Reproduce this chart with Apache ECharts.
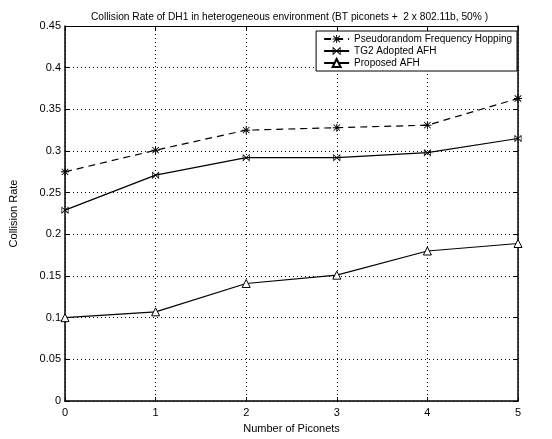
<!DOCTYPE html>
<html>
<head>
<meta charset="utf-8">
<script src="https://cdn.jsdelivr.net/npm/echarts@6/dist/echarts.min.js"></script>
<style>
  html, body { margin: 0; padding: 0; background: #fff; }
  #chart { width: 552px; height: 439px; }
</style>
</head>
<body>
<div id="chart"></div>
<script>
// values
const piconets = [0, 1, 2, 3, 4, 5];
const pseudoRandom = [0.275, 0.301, 0.325, 0.328, 0.331, 0.363];
const tg2Afh = [0.229, 0.271, 0.292, 0.292, 0.298, 0.315];
const proposedAfh = [0.100, 0.107, 0.141, 0.151, 0.180, 0.189];
const seriesNames = ['Pseudorandom Frequency Hopping', 'TG2 Adopted AFH', 'Proposed AFH'];

const font = 'Liberation Sans, Arial, sans-serif';
const star = 'path://M4.4 0 L5.6 0 L5.6 10 L4.4 10 Z M0.5 1.5 L1.3 0.7 L9.5 8.5 L8.7 9.3 Z M8.7 0.7 L9.5 1.5 L1.3 9.3 L0.5 8.5 Z M0 4.4 L10 4.4 L10 5.6 L0 5.6 Z';
const cross = 'path://M0.5 1.5 L1.3 0.7 L9.5 8.5 L8.7 9.3 Z M8.7 0.7 L9.5 1.5 L1.3 9.3 L0.5 8.5 Z M0 0 L1 0 L1 10 L0 10 Z M9 0 L10 0 L10 10 L9 10 Z';

const pairs = (ys) => piconets.map((x, i) => [x, ys[i]]);

const chart = echarts.init(document.getElementById('chart'));
chart.setOption({
    animation: false,
    title: {
        text: 'Collision Rate of DH1 in heterogeneous environment (BT piconets +  2 x 802.11b, 50% )',
        left: 86,
        top: 7,
        textStyle: { fontFamily: font, fontSize: 10.2, fontWeight: 'normal', color: '#000' },
    },
    legend: {
        orient: 'vertical',
        right: 35,
        top: 31,
        backgroundColor: '#fff',
        borderColor: '#000',
        borderWidth: 1,
        borderRadius: 0,
        padding: [3, 5, 3, 7],
        itemGap: 2,
        itemWidth: 25,
        itemHeight: 10,
        textStyle: { fontFamily: font, fontSize: 10, color: '#000' },
        data: seriesNames,
    },
    grid: { left: 62, right: 34, top: 26, bottom: 34 },
    xAxis: [{
        type: 'value',
        min: 0, max: 5, interval: 1,
        name: 'Number of Piconets',
        nameLocation: 'middle',
        nameGap: 22,
        nameTextStyle: { fontFamily: font, fontSize: 11, color: '#000' },
        axisLine: { onZero: false, lineStyle: { color: '#000', width: 1.5 } },
        axisTick: { inside: true, length: 4, lineStyle: { color: '#000' } },
        axisLabel: { fontFamily: font, fontSize: 11, color: '#000', margin: 6 },
        splitLine: { show: true, lineStyle: { color: '#000', type: [1, 3], width: 1 } },
    }, {
        type: 'value',
        position: 'top',
        min: 0, max: 5, interval: 1,
        axisLine: { onZero: false, lineStyle: { color: '#000', width: 1 } },
        axisTick: { inside: true, length: 4, lineStyle: { color: '#000' } },
        axisLabel: { show: false },
        splitLine: { show: false },
    }],
    yAxis: [{
        type: 'value',
        min: 0, max: 0.45, interval: 0.05,
        name: 'Collision Rate',
        nameLocation: 'middle',
        nameGap: 46,
        nameTextStyle: { fontFamily: font, fontSize: 11, color: '#000' },
        axisLine: { show: true, onZero: false, lineStyle: { color: '#000', width: 1.5 } },
        axisTick: { show: true, inside: true, length: 4, lineStyle: { color: '#000' } },
        axisLabel: { fontFamily: font, fontSize: 11, color: '#000', margin: 4 },
        splitLine: { show: true, lineStyle: { color: '#000', type: [1, 3], width: 1 } },
    }, {
        type: 'value',
        position: 'right',
        min: 0, max: 0.45, interval: 0.05,
        axisLine: { show: true, onZero: false, lineStyle: { color: '#000', width: 1.5 } },
        axisTick: { show: true, inside: true, length: 4, lineStyle: { color: '#000' } },
        axisLabel: { show: false },
        splitLine: { show: false },
    }],
    series: [{
        name: seriesNames[0],
        type: 'line',
        data: pairs(pseudoRandom),
        symbol: star,
        symbolSize: 8,
        itemStyle: { color: '#000' },
        lineStyle: { color: '#000', width: 1.2, type: [7, 5] },
    }, {
        name: seriesNames[1],
        type: 'line',
        data: pairs(tg2Afh),
        symbol: cross,
        symbolSize: 7,
        itemStyle: { color: '#000' },
        lineStyle: { color: '#000', width: 1.2 },
    }, {
        name: seriesNames[2],
        type: 'line',
        data: pairs(proposedAfh),
        symbol: 'triangle',
        symbolSize: 8,
        itemStyle: { color: '#fff', borderColor: '#000', borderWidth: 1 },
        lineStyle: { color: '#000', width: 1.2 },
    }],
});
</script>
</body>
</html>
